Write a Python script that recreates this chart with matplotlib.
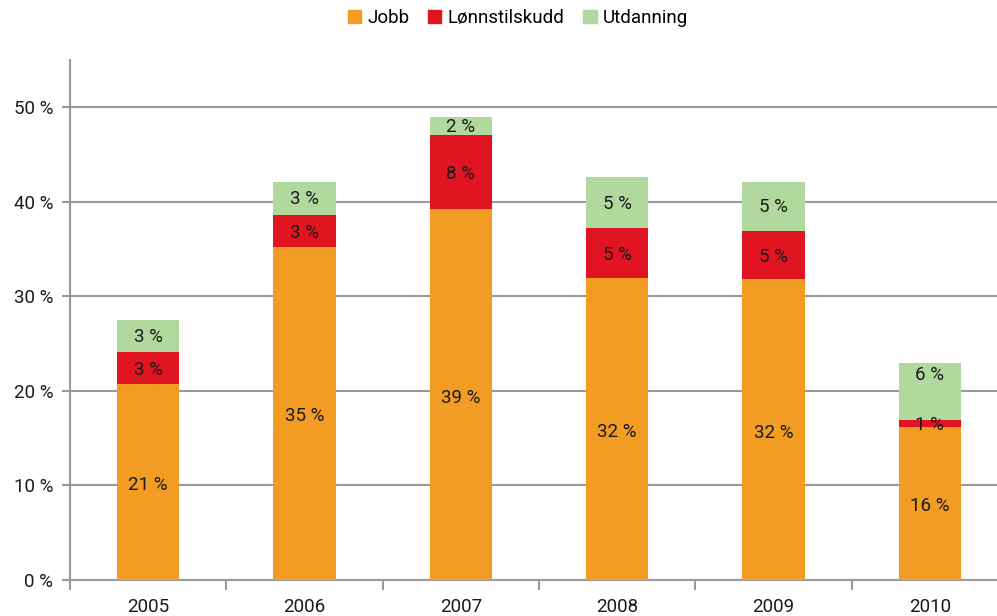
import numpy as np
import matplotlib.pyplot as plt
from matplotlib.patches import Patch

plt.rcParams['font.family'] = ['Roboto', 'DejaVu Sans']

# Data
years = ['2005', '2006', '2007', '2008', '2009', '2010']
jobb = [20.7, 35.2, 39.2, 31.9, 31.8, 16.2]
lonn = [3.4, 3.4, 7.9, 5.3, 5.1, 0.7]
utd = [3.4, 3.5, 1.9, 5.4, 5.2, 6.0]
jobb_lbl = ['21 %', '35 %', '39 %', '32 %', '32 %', '16 %']
lonn_lbl = ['3 %', '3 %', '8 %', '5 %', '5 %', '1 %']
utd_lbl = ['3 %', '3 %', '2 %', '5 %', '5 %', '6 %']

c_jobb = '#F39C24'
c_lonn = '#E11522'
c_utd = '#B2D99D'
grid_c = '#9A9A9A'
txt_c = '#1a1a1a'
fs = 13.5

W, H = 997, 616
fig = plt.figure(figsize=(W / 100, H / 100), dpi=100)
ax = fig.add_axes([70 / W, 36 / H, 938 / W, 520 / H])

x = np.arange(len(years))
w = 0.40
jobb = np.array(jobb)
lonn = np.array(lonn)
utd = np.array(utd)

ax.bar(x, jobb, w, color=c_jobb, zorder=3)
ax.bar(x, lonn, w, bottom=jobb, color=c_lonn, zorder=3)
ax.bar(x, utd, w, bottom=jobb + lonn, color=c_utd, zorder=3)

for i in range(len(years)):
    top = jobb[i] + lonn[i] + utd[i]
    ax.text(x[i], jobb[i] / 2 - 0.3, jobb_lbl[i], ha='center', va='center', fontsize=fs, color=txt_c, zorder=4)
    ax.text(x[i], jobb[i] + lonn[i] / 2 - 0.2, lonn_lbl[i], ha='center', va='center', fontsize=fs, color=txt_c, zorder=4)
    # when the red segment is too thin, the green label is pushed up towards the top
    uy = top - 1.2 if lonn[i] < 1.5 else jobb[i] + lonn[i] + utd[i] / 2 - 0.1
    ax.text(x[i], uy, utd_lbl[i], ha='center', va='center', fontsize=fs, color=txt_c, zorder=4)

ax.set_xlim(-0.5, len(years) - 0.5)
ax.set_ylim(0, 55)
ax.set_yticks(np.arange(0, 51, 10))
ax.set_yticklabels([f'{v} %' for v in range(0, 51, 10)], fontsize=fs, color=txt_c)
ax.yaxis.grid(True, color=grid_c, linewidth=1.5, zorder=0)
ax.set_axisbelow(True)

ax.set_xticks(x)
ax.set_xticklabels(years, fontsize=fs, color=txt_c)
ax.set_xticks(np.arange(-0.5, len(years), 1.0), minor=True)
ax.tick_params(axis='x', which='major', length=0, pad=13)
ax.tick_params(axis='x', which='minor', length=7, width=1.5, color=grid_c)
ax.tick_params(axis='y', length=6, width=1.5, color=grid_c, pad=6)

for s in ['top', 'right']:
    ax.spines[s].set_visible(False)
for s in ['left', 'bottom']:
    ax.spines[s].set_color(grid_c)
    ax.spines[s].set_linewidth(1.5)

handles = [Patch(color=c_jobb, label='Jobb'),
           Patch(color=c_lonn, label='Lønnstilskudd'),
           Patch(color=c_utd, label='Utdanning')]
fig.legend(handles=handles, loc='center', bbox_to_anchor=(518 / W, 1 - 18 / H), ncol=3,
           frameon=False, fontsize=fs, handlelength=0.7, handleheight=0.7,
           handletextpad=0.35, columnspacing=1.0)

fig.savefig('out.png', dpi=100)
